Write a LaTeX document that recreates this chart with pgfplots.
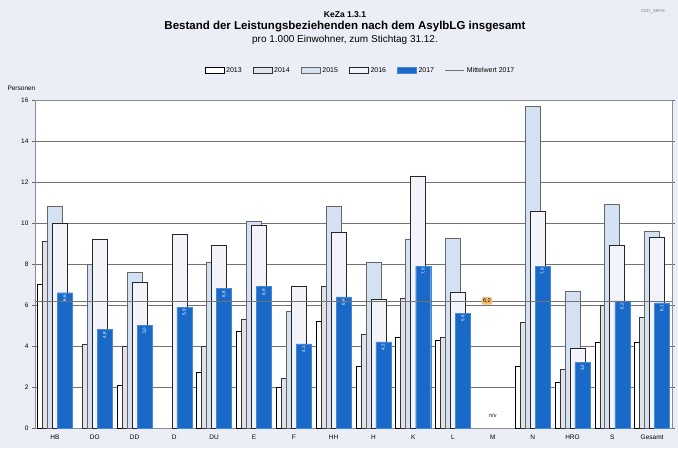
\documentclass[border=0pt]{standalone}
\usepackage{pgfplots}
\pgfplotsset{compat=1.18}
\usepackage{pgfplotstable}
\usepackage{fontspec}
\setmainfont{Liberation Sans}

\definecolor{bg}{RGB}{236,238,247}
\definecolor{blue17}{RGB}{25,105,200}
\definecolor{lb15}{RGB}{212,225,243}
\definecolor{w16}{RGB}{242,244,250}
\definecolor{g14}{RGB}{226,227,232}
\definecolor{meanor}{RGB}{242,190,110}

\pgfplotsset{barleg/.style={legend image code/.code={\draw[##1] (0pt,-3pt) rectangle (19pt,3pt);}}}

% Bestand je 1.000 Einwohner, nan = keine Angabe
\pgfplotstableread{
x  y13  y14  y15   y16   y17
0  7.0  9.1  10.8  10.0  6.6
1  nan  4.1  8.0   9.2   4.8
2  2.1  4.0  7.6   7.1   5.0
3  nan  nan  nan   9.45  5.9
4  2.7  4.0  8.1   8.9   6.8
5  4.7  5.3  10.1  9.9   6.9
6  2.0  2.45 5.7   6.9   4.1
7  5.2  6.9  10.8  9.55  6.4
8  3.0  4.55 8.1   6.3   4.2
9  4.45 6.35 9.2   12.3  7.9
10 4.3  4.45 9.25  6.6   5.6
12 3.0  5.15 15.7  10.55 7.9
13 2.25 2.85 6.65  3.9   3.2
14 4.2  6.0  10.9  8.9   6.2
15 4.2  5.4  9.6   9.3   6.1
}\data

\begin{document}
\begin{tikzpicture}[x=1pt,y=1pt]
\fill[bg] (-35,-20) rectangle (643,428);
\begin{axis}[
  at={(0,0)}, anchor=south west,
  scale only axis, width=637pt, height=328pt,
  ybar, bar width=15pt,
  xmin=-0.5, xmax=15.5, ymin=0, ymax=16,
  ytick={0,2,...,16},
  xtick={0,...,15},
  xticklabels={HB,DO,DD,D,DU,E,F,HH,H,K,L,M,N,HRO,S,Gesamt},
  ymajorgrids,
  grid style={black!55, line width=0.6pt},
  axis background/.style={fill=white},
  axis line style={black!45},
  xtick style={draw=none},
  ytick style={black!60},
  tick align=outside, major tick length=3pt,
  tick label style={font=\fontsize{6.5}{7}\selectfont},
  /pgf/number format/assume math mode=true,
  /pgf/number format/use comma,
  legend style={at={(0.5,1)}, anchor=south, yshift=22pt, xshift=7pt, draw=none, fill=none,
    legend columns=-1, font=\fontsize{7}{8}\selectfont,
    /tikz/every even column/.append style={column sep=9pt}},
]
\addplot[fill=white, draw=black, line width=0.5pt, bar shift=-10pt, barleg] table[x=x,y=y13]{\data};
\addlegendentry{2013}
\addplot[fill=g14, draw=black!80, line width=0.5pt, bar shift=-5pt, barleg] table[x=x,y=y14]{\data};
\addlegendentry{2014}
\addplot[fill=lb15, draw=black!60, line width=0.6pt, bar shift=0pt, barleg] table[x=x,y=y15]{\data};
\addlegendentry{2015}
\addplot[fill=w16, draw=black!85, line width=0.6pt, bar shift=5pt, barleg] table[x=x,y=y16]{\data};
\addlegendentry{2016}
\addplot[fill=blue17, draw=blue17!80!white, line width=0.4pt, bar shift=10pt, barleg,
  nodes near coords,
  every node near coord/.append style={font=\fontsize{4.5}{5}\selectfont, text=white,
    rotate=90, anchor=east, inner sep=2pt,
    /pgf/number format/.cd, fixed, fixed zerofill, precision=1, use comma}]
  table[x=x,y=y17]{\data};
\addlegendentry{2017}
\addplot[sharp plot, black!55, line width=0.8pt,
  legend image code/.code={\draw[black!55, line width=0.8pt] (0pt,0pt) -- (19pt,0pt);}]
  coordinates {(-0.5,6.2) (15.5,6.2)};
\addlegendentry{Mittelwert 2017}
\node[fill=meanor, rounded corners=2pt, font=\fontsize{5.5}{6}\selectfont, inner sep=1.5pt] at (axis cs:10.85,6.2) {6,2};
\node[font=\fontsize{5.5}{6}\selectfont] at (axis cs:11,0.6) {n/v};
\end{axis}
\node[font=\bfseries\fontsize{8.5}{9}\selectfont] at (310,413) {KeZa 1.3.1};
\node[font=\bfseries\fontsize{11.5}{12}\selectfont] at (310,401) {Bestand der Leistungsbeziehenden nach dem AsylbLG insgesamt};
\node[font=\fontsize{10}{11}\selectfont] at (310,388) {pro 1.000 Einwohner, zum Stichtag 31.12.};
\node[font=\fontsize{6.5}{7}\selectfont, anchor=west] at (-31,340) {Personen};
\node[font=\fontsize{5.5}{6}\selectfont, text=black!45] at (618,416) {con\_sens};
\end{tikzpicture}
\end{document}
